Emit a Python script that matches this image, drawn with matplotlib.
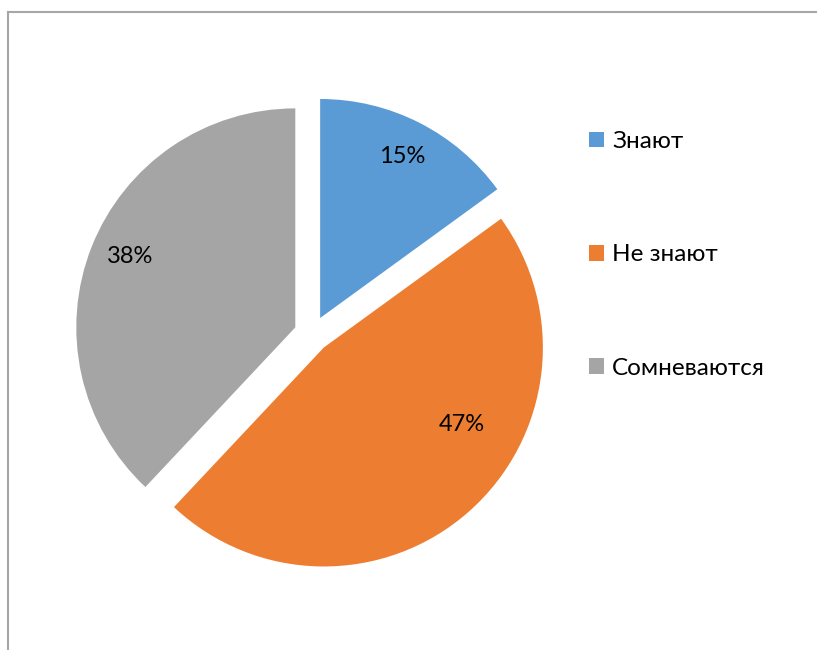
import matplotlib
matplotlib.use("Agg")
import matplotlib.pyplot as plt
from matplotlib.lines import Line2D
from matplotlib.patches import Patch
import numpy as np

plt.rcParams['font.family'] = ['Lato', 'Open Sans', 'DejaVu Sans']

categories = ["Знают", "Не знают", "Сомневаются"]
values = [15, 47, 38]
colors = ["#5B9BD5", "#ED7D31", "#A5A5A5"]

# label placement style (angle offset in degrees from slice middle, distance as fraction of radius)
label_offsets = [0.0, 19.5, -1.5]
label_dists = [0.83, 0.72, 0.82]

W, H = 817, 650
fig = plt.figure(figsize=(W / 100, H / 100), dpi=100)
ax = fig.add_axes([0, 0, 1, 1])
ax.set_axis_off()

R = 219.0          # radius in pixels
cx, cy = 312.0, 334.0  # pie centre in pixels (image coords)

wedges, _ = ax.pie(values, colors=colors, startangle=90, counterclock=False,
                   explode=[0.082] * len(values), radius=1.0, center=(0, 0),
                   wedgeprops=dict(linewidth=0), frame=False)
ax.set_xlim(-cx / R, (W - cx) / R)
ax.set_ylim(-(H - cy) / R, cy / R)

for w, v, off, d in zip(wedges, values, label_offsets, label_dists):
    mid = np.deg2rad((w.theta1 + w.theta2) / 2 + off)
    x0, y0 = w.center
    ax.text(x0 + d * np.cos(mid), y0 + d * np.sin(mid), f"{v}%",
            ha="center", va="center", fontsize=17, color="#000000")

handles = [Patch(facecolor=c, edgecolor='none') for c in colors]
fig.legend(handles, categories, loc="upper left",
           bbox_to_anchor=(589 / W, 1 - 131 / H), frameon=False,
           fontsize=17.5, handlelength=0.6, handleheight=0.6,
           handletextpad=0.35, labelspacing=3.8, borderpad=0,
           borderaxespad=0)

# chart border (top and left visible)
fig.add_artist(Line2D([8 / W, 8 / W], [0, 1 - 12 / H], transform=fig.transFigure,
                      color="#A6A6A6", linewidth=1.5))
fig.add_artist(Line2D([8 / W, 1], [1 - 12 / H, 1 - 12 / H], transform=fig.transFigure,
                      color="#A6A6A6", linewidth=1.5))

fig.savefig("out.png", dpi=100)
